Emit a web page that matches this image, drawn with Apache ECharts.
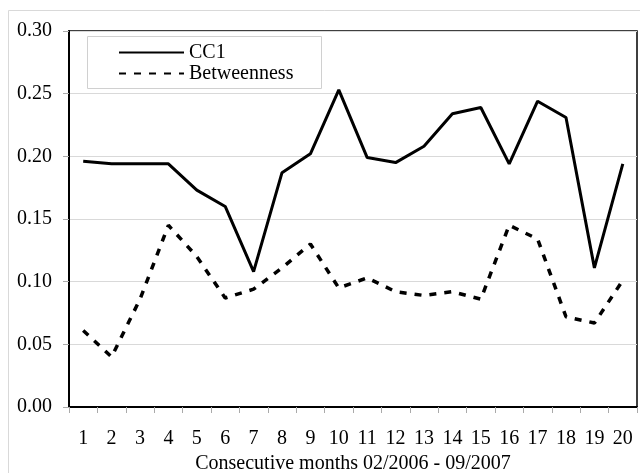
<!DOCTYPE html>
<html>
<head>
<meta charset="utf-8">
<script src="https://cdn.jsdelivr.net/npm/echarts@6/dist/echarts.min.js"></script>
<style>
  html, body { margin: 0; padding: 0; background: #fff; }
  #chart { width: 640px; height: 473px; }
</style>
</head>
<body>
<div id="chart"></div>
<script>
var months = ['1','2','3','4','5','6','7','8','9','10','11','12','13','14','15','16','17','18','19','20'];
var cc1 = [0.196, 0.194, 0.194, 0.194, 0.173, 0.160, 0.108, 0.187, 0.202, 0.253,
           0.199, 0.195, 0.208, 0.234, 0.239, 0.194, 0.244, 0.231, 0.111, 0.194];
var betweenness = [0.061, 0.040, 0.086, 0.145, 0.120, 0.087, 0.094, 0.111, 0.130, 0.095,
                   0.103, 0.092, 0.089, 0.092, 0.086, 0.145, 0.134, 0.072, 0.067, 0.101];
var yTicks = { min: 0, max: 0.3, step: 0.05 };

var font = '"Liberation Serif", "Times New Roman", serif';
var chart = echarts.init(document.getElementById('chart'));

var option = {
    animation: false,
    backgroundColor: '#fff',
    graphic: [
        // outer chart frame
        { type: 'rect', shape: { x: 8.5, y: 10.5, width: 640, height: 470 },
          style: { fill: 'none', stroke: '#d9d9d9', lineWidth: 1 }, silent: true },
        // legend box
        { type: 'rect', shape: { x: 87.5, y: 36.5, width: 234, height: 52 },
          style: { fill: '#fff', stroke: '#d0d0d0', lineWidth: 1 }, z: 5, silent: true }
    ],
    grid: {
        left: 69, top: 31, right: 3, bottom: 66,
        outerBoundsMode: 'none',
        containLabel: false,
        show: true, borderColor: '#000', borderWidth: 1.5, backgroundColor: 'transparent'
    },
    legend: {
        orient: 'vertical',
        left: 113, top: 37,
        itemWidth: 65, itemHeight: 14, itemGap: 0,
        z: 10,
        itemStyle: { opacity: 0 },
        textStyle: { fontFamily: font, fontSize: 20, lineHeight: 21, color: '#000' },
        data: ['CC1', 'Betweenness']
    },
    xAxis: {
        type: 'category',
        data: months,
        boundaryGap: true,
        name: 'Consecutive months 02/2006 - 09/2007',
        nameLocation: 'middle',
        nameGap: 44,
        nameTextStyle: { fontFamily: font, fontSize: 20, color: '#000' },
        axisLine: { lineStyle: { color: '#000', width: 2 } },
        axisTick: { show: true, length: 6, lineStyle: { color: '#aaa' } },
        axisLabel: { fontFamily: font, fontSize: 20, color: '#000', margin: 22 },
        splitLine: { show: false }
    },
    yAxis: {
        type: 'value',
        min: yTicks.min, max: yTicks.max, interval: yTicks.step,
        axisLine: { show: true, lineStyle: { color: '#000', width: 2 } },
        axisTick: { show: true, length: 6, lineStyle: { color: '#aaa' } },
        axisLabel: {
            fontFamily: font, fontSize: 20, color: '#000', margin: 17,
            formatter: function (v) { return v.toFixed(2); }
        },
        splitLine: { show: true, lineStyle: { color: '#d9d9d9', width: 1 } }
    },
    series: [
        {
            name: 'CC1', type: 'line', data: cc1,
            symbol: 'none',
            lineStyle: { color: '#000', width: 3 },
            itemStyle: { color: '#000' }
        },
        {
            name: 'Betweenness', type: 'line', data: betweenness,
            symbol: 'none',
            lineStyle: { color: '#000', width: 3.5, type: [7, 8] },
            itemStyle: { color: '#000' }
        }
    ]
};

chart.setOption(option);
</script>
</body>
</html>
